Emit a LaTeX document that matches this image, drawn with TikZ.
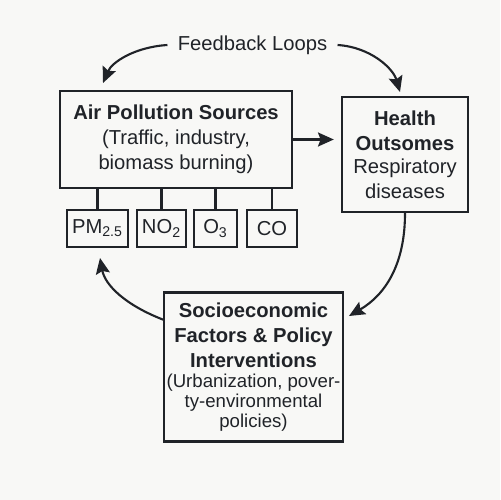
\documentclass[tikz,border=0pt]{standalone}
\usepackage{fontspec}
\setmainfont{Liberation Sans}
\usetikzlibrary{arrows.meta}
\definecolor{ink}{RGB}{32,35,40}
\definecolor{bg}{RGB}{248,248,246}
\newcommand{\smtxt}[1]{{\fontsize{10.6}{12}\selectfont #1}}
\begin{document}
\begin{tikzpicture}[x=0.02cm,y=-0.02cm,
 box/.style={draw=ink, line width=1.4pt, align=center, text=ink, inner sep=0pt, font=\fontsize{11.5}{14.2}\selectfont},
 pol/.style={draw=ink, line width=1.3pt, text=ink, inner sep=0pt, minimum height=0.74cm, font=\fontsize{11.5}{14}\selectfont},
 arr/.style={draw=ink, line width=1.2pt, -{Stealth[length=9pt,width=8pt,inset=1.5pt]}},
 link/.style={draw=ink, line width=1.3pt}]
\fill[bg] (0,0) rectangle (500,500);
\useasboundingbox (0,0) rectangle (500,500);

\node[box, minimum width=4.64cm, minimum height=1.94cm] (air) at (176,139.5)
  {\textbf{Air Pollution Sources}\\(Traffic, industry,\\biomass burning)};
\node[box, minimum width=2.52cm, minimum height=2.3cm] (health) at (405,154.5)
  {\textbf{Health}\\\textbf{Outsomes}\\[-1pt]Respiratory\\diseases};
\node[box, minimum width=3.58cm, minimum height=2.98cm] (socio) at (253.5,367)
  {\textbf{Socioeconomic}\\\textbf{Factors \& Policy}\\\textbf{Interventions}\\[-2.5pt]
   \smtxt{(Urbanization, pover-}\\[-2.8pt]\smtxt{ty-environmental}\\[-2.8pt]\smtxt{policies)}};
\node[text=ink, inner xsep=0.2cm, inner ysep=0pt, font=\fontsize{11.5}{14}\selectfont] (fb) at (252.5,45) {Feedback Loops};

\node[pol, minimum width=1.22cm] (pm) at (97.5,228.5) {PM\textsubscript{2.5}};
\node[pol, minimum width=0.98cm] (no2) at (161.5,228.5) {NO\textsubscript{2}};
\node[pol, minimum width=0.86cm] (o3) at (215.5,228.5) {O\textsubscript{3}};
\node[pol, minimum width=1.0cm] (co) at (272,228.5) {CO};

\foreach \p in {pm,no2,o3,co}
  \draw[link] (\p.north) -- (\p.north |- air.south);

\coordinate (ah) at ([xshift=-0.14cm]air.east -| health.west);
\draw[arr] (air.east) -- (ah);

\coordinate (t1) at (103,83);
\coordinate (t2) at (400,92);
\coordinate (t3) at (100,258);
\coordinate (t4) at (349,316);
\coordinate (s3) at (164,320);

\draw[arr] (fb.west) .. controls (135,47) and (112,62) .. (t1);
\draw[arr] (fb.east) .. controls (370,47) and (393,68) .. (t2);
\draw[arr] (s3) .. controls (125,305) and (105,285) .. (t3);
\draw[arr] (health.south) .. controls (405,265) and (385,295) .. (t4);
\end{tikzpicture}
\end{document}
